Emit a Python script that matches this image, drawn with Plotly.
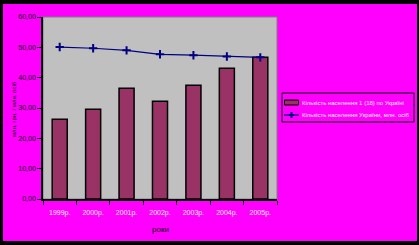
import plotly.graph_objects as go

years = ["1999р.", "2000р.", "2001р.", "2002р.", "2003р.", "2004р.", "2005р."]
bar_values = [26.3, 29.6, 36.5, 32.2, 37.5, 43.1, 46.7]
line_values = [50.1, 49.7, 49.0, 47.7, 47.4, 47.0, 46.7]
bar_name = "Кількість населення 1 (18) по Україні"
line_name = "Кількість населення України, млн. осіб"
y_ticks = [0, 10, 20, 30, 40, 50, 60]
y_tick_text = ["0,00", "10,00", "20,00", "30,00", "40,00", "50,00", "60,00"]

W, H = 419, 245
L, R, T, B = 43, 277, 17, 199

def px(x):
    return (x - L) / (R - L)

def py(y):
    return (B - y) / (B - T)

BAR_COLOR = "#993366"
LINE_COLOR = "#000080"

fig = go.Figure()
fig.add_trace(go.Bar(x=years, y=bar_values, name=bar_name,
                     marker=dict(color=BAR_COLOR, line=dict(color="black", width=1.5)),
                     width=0.45, showlegend=False))
fig.add_trace(go.Scatter(x=years, y=line_values, name=line_name, mode="lines+markers",
                         line=dict(color=LINE_COLOR, width=1.2),
                         marker=dict(symbol="cross-thin", size=6,
                                     line=dict(color=LINE_COLOR, width=2)),
                         showlegend=False))

def rect(x0, x1, y0, y1, **kw):
    return dict(type="rect", xref="paper", yref="paper", x0=px(x0), x1=px(x1),
                y0=py(y1), y1=py(y0), **kw)

shapes = [
    dict(type="rect", xref="paper", yref="paper", x0=0, x1=1, y0=0, y1=1,
         line=dict(color="#808080", width=1), fillcolor="rgba(0,0,0,0)", layer="below"),
    # black frame
    rect(-5, 3, -5, H + 5, fillcolor="black", line=dict(width=0)),
    rect(-5, W + 5, -5, 4, fillcolor="black", line=dict(width=0)),
    rect(417, W + 5, -5, H + 5, fillcolor="black", line=dict(width=0)),
    rect(-5, W + 5, 241, H + 5, fillcolor="black", line=dict(width=0)),
    # legend box
    rect(282, 414, 93, 122, fillcolor="rgba(0,0,0,0)", line=dict(color="black", width=1)),
    # legend swatch for bars
    rect(284.5, 298.5, 100, 105, fillcolor=BAR_COLOR, line=dict(color="black", width=1)),
    # legend line for series 2
    dict(type="line", xref="paper", yref="paper", x0=px(284), x1=px(299), y0=py(115), y1=py(115),
         line=dict(color=LINE_COLOR, width=1.2)),
    dict(type="line", xref="paper", yref="paper", x0=px(291.5), x1=px(291.5), y0=py(112), y1=py(118),
         line=dict(color=LINE_COLOR, width=2)),
    dict(type="line", xref="paper", yref="paper", x0=px(289), x1=px(294), y0=py(115), y1=py(115),
         line=dict(color=LINE_COLOR, width=2)),
]

fig.update_layout(
    width=W, height=H,
    margin=dict(l=L, r=W - R, t=T, b=H - B, pad=0, autoexpand=False),
    paper_bgcolor="#FF00FF",
    plot_bgcolor="#C0C0C0",
    font=dict(family="Liberation Sans, Arial", size=7, color="black"),
    showlegend=False,
    bargap=0.55,
    shapes=shapes,
    annotations=[
        dict(text=bar_name, xref="paper", yref="paper", x=px(300), y=py(102.5),
             xanchor="left", yanchor="middle", showarrow=False,
             font=dict(size=6, color="#f0f0f0")),
        dict(text=line_name, xref="paper", yref="paper", x=px(300), y=py(115),
             xanchor="left", yanchor="middle", showarrow=False,
             font=dict(size=6, color="#f0f0f0")),
        dict(text="роки", xref="paper", yref="paper", x=px(160), y=py(229),
             xanchor="center", yanchor="middle", showarrow=False,
             font=dict(size=8, color="black")),
        dict(text="млн. грн. / млн. осіб", xref="paper", yref="paper", x=px(9), y=py(109),
             showarrow=False, textangle=-90, font=dict(size=6, color="black")),
    ],
)
fig.update_xaxes(showgrid=False, showline=True, linecolor="black", linewidth=1.5,
                 ticks="outside", tickson="boundaries", ticklen=4, tickcolor="black",
                 tickangle=0, automargin=False, ticklabelstandoff=6,
                 tickfont=dict(size=7, color="#f0f0f0"))
fig.update_yaxes(range=[0, 60], tickvals=y_ticks, ticktext=y_tick_text, showgrid=False,
                 showline=True, linecolor="black", linewidth=1.5, ticks="outside",
                 ticklen=4, tickcolor="black", tickfont=dict(size=7, color="black"),
                 automargin=False, zeroline=False)

fig.write_html("out.html")
